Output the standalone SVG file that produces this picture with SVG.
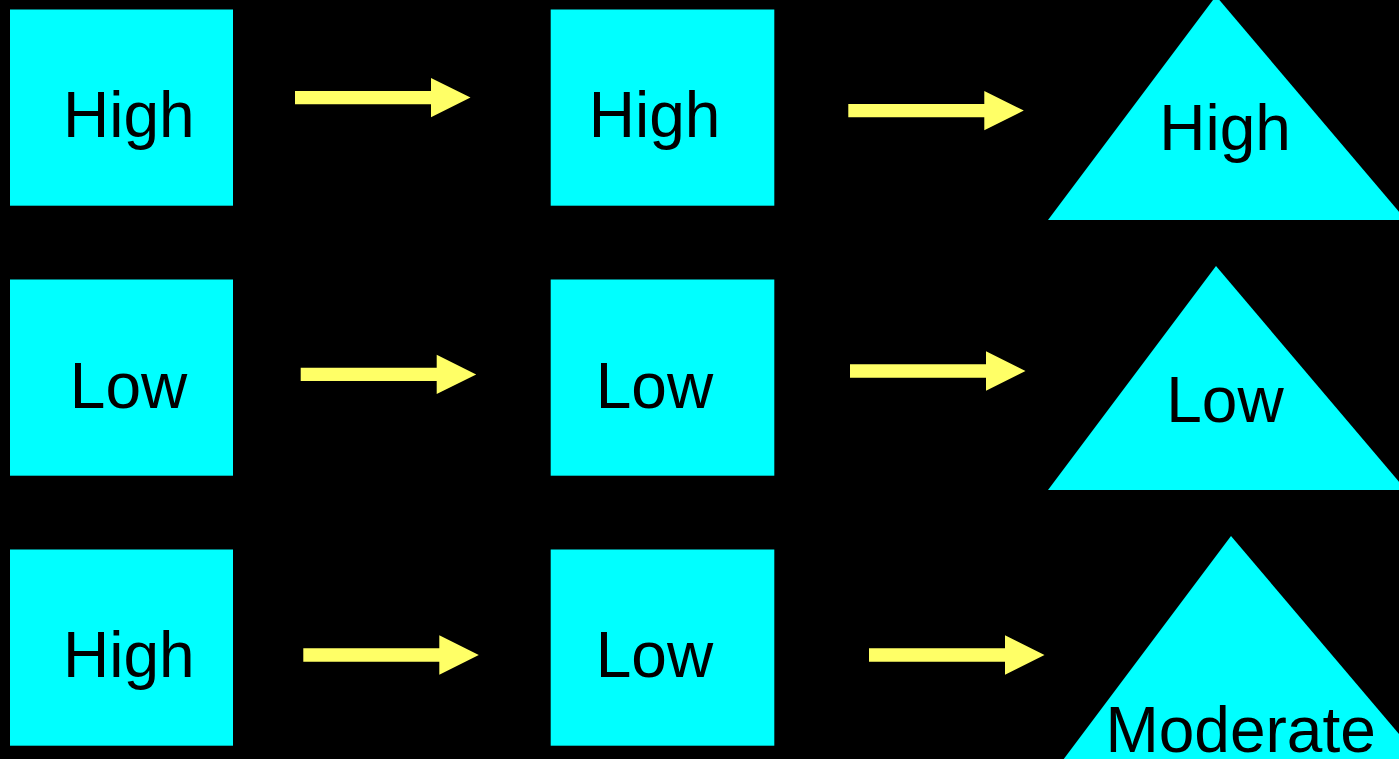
<svg xmlns="http://www.w3.org/2000/svg" width="1399" height="759" viewBox="0 0 1399 759">
  <defs>
    <style>
      .box { fill: #00FFFF; }
      .lbl { font-family: "Liberation Sans", Arial, sans-serif; font-size: 64px; fill: #000000; }
      .arrow { fill: #FFFF66; }
    </style>
    <path id="arr" d="M0,-6.67 H136 V-19.7 L175.5,0 L136,19.7 V6.67 H0 Z"/>
  </defs>
  <rect x="0" y="0" width="1399" height="759" fill="#000000"/>

  <g id="r1c1"><rect class="box" x="10" y="9.5" width="223" height="196.2"/><text class="lbl" x="63" y="137">High</text></g>
  <g id="r1c2"><rect class="box" x="550.7" y="9.5" width="223.6" height="196.2"/><text class="lbl" x="588.8" y="137">High</text></g>
  <g id="r1c3"><polygon class="box" points="1216,-4 1048,220 1406,220"/><text class="lbl" x="1159.3" y="150">High</text></g>

  <g id="r2c1"><rect class="box" x="10" y="279.5" width="223" height="196.2"/><text class="lbl" x="69.8" y="407.5">Low</text></g>
  <g id="r2c2"><rect class="box" x="550.7" y="279.5" width="223.6" height="196.2"/><text class="lbl" x="595.7" y="407.5">Low</text></g>
  <g id="r2c3"><polygon class="box" points="1216,266 1048,490 1406,490"/><text class="lbl" x="1166.2" y="421.7">Low</text></g>

  <g id="r3c1"><rect class="box" x="10" y="549.5" width="223" height="196.2"/><text class="lbl" x="63" y="677">High</text></g>
  <g id="r3c2"><rect class="box" x="550.7" y="549.5" width="223.6" height="196.2"/><text class="lbl" x="595.7" y="677">Low</text></g>
  <g id="r3c3"><polygon class="box" points="1231,536 1063,760 1421,760"/><text class="lbl" x="1105.4" y="751.7">Moderate</text></g>

  <g id="connectors" class="arrow">
    <use href="#arr" transform="translate(295,97.6)"/>
    <use href="#arr" transform="translate(848.3,110.6)"/>
    <use href="#arr" transform="translate(300.7,374.4)"/>
    <use href="#arr" transform="translate(850,371)"/>
    <use href="#arr" transform="translate(303.3,655)"/>
    <use href="#arr" transform="translate(869,655)"/>
  </g>
</svg>
